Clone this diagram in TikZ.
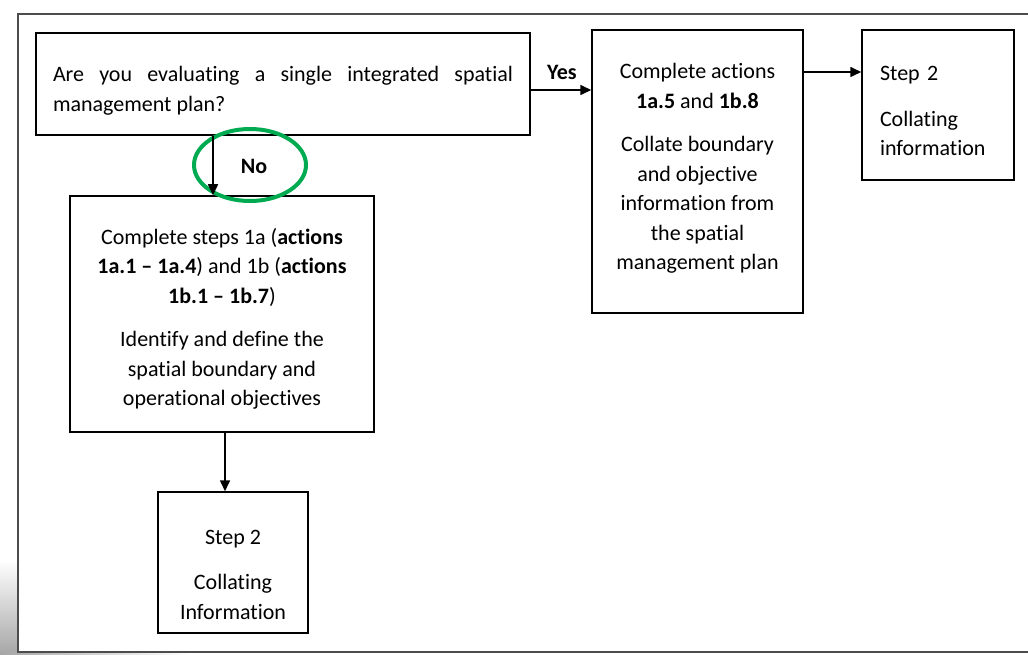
\documentclass[tikz,border=0pt]{standalone}
\usepackage{fontspec}
\setmainfont{Carlito}[Ligatures=NoCommon]
\usetikzlibrary{arrows.meta, shapes.geometric}
\definecolor{ringgreen}{RGB}{0,170,80}
\hyphenpenalty=10000
\tolerance=10000
\tikzset{every picture/.append style={x=1pt, y=-1pt}}
\tikzset{
    every node/.style={rectangle, draw, line width=1.5pt, inner sep=0pt,
    	font=\fontsize{22}{29.5}\selectfont, align=center}
}
\tikzset{every label/.append style={draw=none, align=center}}
\tikzset{arr/.style={line width=1.6pt, -{Triangle[length=11pt, width=10pt]}}}

\begin{document}
\begin{tikzpicture}
  \useasboundingbox (0,0) rectangle (1028,655);
  \clip (0,0) rectangle (1028,655);
  \shade [top color=white, bottom color=black!35, draw=none] (0,560) rectangle (17,655);
  \shade [left color=black!35, right color=white, draw=none] (0,652) rectangle (190,655);
  \draw [black!70, line width=1.5pt] (1040,14) -- (18,14) -- (18,652) -- (1040,652);

  \node (q) [minimum width=494pt, minimum height=102pt,
    label={[yshift=-7pt, text width=460pt, align=justify]center:Are you evaluating a
      single integrated spatial management plan?}] at (283,84) {};
  \node (yes_act) [minimum width=211pt, minimum height=283pt,
    label={[yshift=3pt]center:Complete actions\\\textbf{1a.5} and \textbf{1b.8}\\[14pt]
      Collate boundary\\and objective\\information from\\the spatial\\management plan}]
    at (697.5,171.5) {};
  \node (step2_r) [minimum width=152pt, minimum height=150pt,
    label={[yshift=-6pt, text width=116pt, align=left]center:Step 2\\[16pt]Collating\\information}]
    at (938,105) {};
  \node (no_act) [minimum width=304pt, minimum height=236pt,
    label={[yshift=-5pt]center:Complete steps 1a (\textbf{actions}\\\textbf{1a.1 -- 1a.4}) and 1b
      (\textbf{actions}\\\textbf{1b.1 -- 1b.7})\\[14pt]
      Identify and define the\\spatial boundary and\\operational objectives}]
    at (222,314) {};
  \node (step2_b) [minimum width=150pt, minimum height=141pt,
    label={[yshift=-12pt]center:Step 2\\[16pt]Collating\\Information}]
    at (233,562.5) {};
  \node (yes_label) [draw=none, font=\fontsize{22}{26}\selectfont\bfseries] at (562,72) {Yes};
  \node (no_label) [draw=none, font=\fontsize{22}{26}\selectfont\bfseries] at (254,166) {No};
  \node (no_ring) [ellipse, draw=ringgreen, line width=4pt, minimum width=112pt,
    minimum height=72pt] at (250,165) {};

  \draw [arr] ([yshift=-6pt]q.east) -- ([yshift=-6pt]q.east -| yes_act.west);
  \draw [arr] ([yshift=33pt]step2_r.west -| yes_act.east) -- ([yshift=33pt]step2_r.west);
  \draw [arr] ([xshift=-9pt]no_act.north |- q.south) -- ([xshift=-9pt]no_act.north);
  \draw [arr] ([xshift=-8pt]step2_b.north |- no_act.south) -- ([xshift=-8pt]step2_b.north);
\end{tikzpicture}
\end{document}
